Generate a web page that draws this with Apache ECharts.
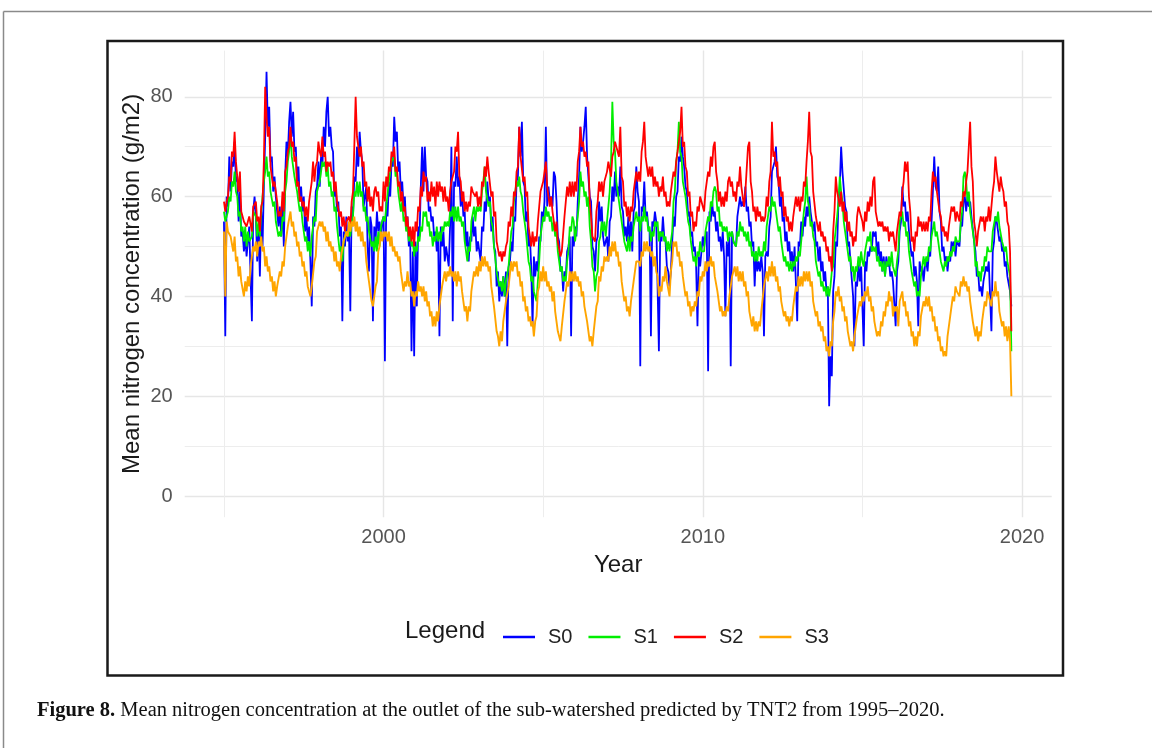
<!DOCTYPE html>
<html><head><meta charset="utf-8">
<script src="https://cdn.jsdelivr.net/npm/echarts@6/dist/echarts.min.js"></script>
<style>html,body{margin:0;padding:0;background:#fff}#c{width:1152px;height:748px}</style>
</head><body><div id="c"></div>
<script>
// ---- data (semi-monthly readings, 1995.0 .. 2019.67) ----
const startYear = 1995;
const stepsPerYear = 24;
const seriesNames = ['S0', 'S1', 'S2', 'S3'];
const yTickLabels = [0, 20, 40, 60, 80];
const yMinorTicks = [10, 30, 50, 70];
const xTickLabels = [2000, 2010, 2020];
const xMinorTicks = [1995, 2005, 2015];
const xAxisTitle = 'Year';
const yAxisTitle = 'Mean nitrogen concentration (g/m2)';
const legendTitle = 'Legend';
const captionBold = 'Figure 8.';
const captionText = ' Mean nitrogen concentration at the outlet of the sub-watershed predicted by TNT2 from 1995\u20132020.';

const s0 = [
55,32,60,58,68,61,67,66,71,63,64,55,61,52,53,49,52,48,51,54,44,35,57,60,
56,47,54,44,57,50,62,72,85,74,78,67,68,61,64,60,60,54,58,52,59,50,64,71,
68,75,79,72,77,69,70,63,66,59,62,57,60,53,56,51,54,47,38,56,54,61,62,67,
62,68,66,74,70,77,80,72,74,70,69,60,62,57,59,52,54,35,53,50,56,51,53,37,
58,56,64,63,70,66,73,69,67,58,60,62,50,45,56,54,35,54,51,57,53,55,52,55,
56,27,59,56,63,60,67,66,76,71,73,65,67,61,63,58,60,54,56,50,52,29,49,28,
51,38,54,52,62,70,61,70,64,63,57,58,55,56,52,53,49,52,32,54,50,53,47,50,
50,46,54,70,35,63,62,68,62,64,58,61,56,57,50,53,47,52,51,56,52,54,49,51,
49,47,54,53,59,57,63,59,60,53,56,50,49,42,45,39,43,40,44,40,45,30,46,47,
51,49,56,55,63,64,74,68,75,63,62,55,57,50,52,46,34,48,44,47,45,52,51,57,
55,59,74,58,62,59,60,58,65,64,59,52,51,45,46,41,45,44,49,50,52,32,52,50,
54,52,59,64,74,69,71,74,78,68,68,60,59,50,49,45,51,52,59,55,58,52,50,51,
52,47,55,56,62,59,65,60,62,60,66,58,57,52,54,51,56,51,55,49,57,58,66,61,
59,26,58,57,63,56,57,54,53,32,55,54,57,55,55,29,53,51,56,52,51,46,45,42,
45,51,56,54,60,61,68,67,72,68,66,62,61,56,57,52,53,49,50,46,34,48,46,46,
52,50,52,53,25,57,55,59,56,57,53,55,51,52,49,53,48,36,51,48,52,26,53,51,
51,50,56,56,60,58,59,58,62,57,58,54,55,50,51,42,49,45,47,45,48,45,32,48,
49,48,54,56,65,66,67,70,64,63,58,60,55,56,51,53,49,51,47,49,45,50,50,35,
51,50,55,52,56,54,58,56,60,57,57,53,55,50,51,47,50,45,47,43,45,41,42,18,
28,24,41,44,51,50,59,62,70,65,65,58,57,50,51,47,47,40,30,43,42,47,43,46,
46,30,47,45,49,48,50,49,53,52,53,48,51,47,49,45,48,44,48,46,47,44,45,43,
43,34,45,47,53,55,62,58,59,55,57,53,53,48,49,44,46,43,34,47,45,46,43,46,
47,45,49,48,55,61,68,62,61,66,57,55,49,50,47,48,45,48,47,51,50,51,48,51,
51,50,55,54,59,60,57,60,58,59,56,56,51,49,44,45,41,42,40,43,43,46,45,47,
47,33,49,51,56,55,55,51,52,49,50,46,47,44,44,41,38
];
const s1 = [
57,55,56,57,60,59,63,62,65,61,60,56,57,53,54,51,54,50,53,51,51,52,57,57,
56,52,55,52,57,57,63,65,68,64,65,61,61,58,59,55,55,52,53,52,56,55,61,63,
67,69,73,68,68,64,64,61,61,57,58,55,55,51,52,49,51,48,52,52,56,55,61,62,
63,63,67,66,67,64,66,62,63,60,61,57,58,54,54,49,50,47,51,51,53,52,53,52,
55,56,61,60,63,60,63,60,61,57,58,55,56,53,53,50,51,49,52,49,53,50,54,54,
56,55,58,58,63,63,67,67,68,64,65,61,61,57,59,55,56,53,54,51,53,50,51,48,
50,49,52,51,54,53,57,56,57,54,55,52,53,50,52,51,54,51,53,51,54,53,55,54,
55,54,57,56,58,55,58,55,58,55,56,54,55,51,51,47,50,49,55,55,58,55,58,57,
58,57,61,63,66,61,61,58,59,55,54,50,50,45,45,42,43,41,44,40,43,43,46,46,
53,54,59,59,63,62,64,61,60,57,57,53,53,47,46,43,44,41,41,39,43,47,52,52,
56,55,58,56,57,55,56,53,55,52,53,49,49,45,46,43,44,43,47,49,54,53,56,55,
51,51,56,59,65,62,63,60,61,58,60,54,51,46,45,41,44,45,51,52,55,53,55,52,
55,55,61,67,79,71,69,63,63,59,59,55,55,51,51,49,52,49,52,51,54,54,57,55,
56,53,56,55,58,55,56,53,54,51,53,52,55,54,55,51,53,52,53,51,52,49,51,49,
51,53,59,61,67,69,75,69,68,63,63,60,60,55,54,51,51,47,48,46,49,48,51,49,
49,49,53,53,56,55,59,58,61,62,61,57,58,54,55,53,54,53,54,51,53,52,53,51,
51,50,53,52,55,53,54,52,53,51,53,50,51,48,49,47,49,47,50,48,49,48,51,49,
54,56,58,57,60,58,59,57,57,53,54,51,51,47,48,46,47,45,47,45,47,46,48,47,
49,48,51,51,57,59,64,59,58,54,55,52,51,47,47,44,45,42,43,41,42,40,42,40,
42,45,46,51,51,56,59,64,61,59,55,55,51,51,47,48,45,46,43,46,45,48,46,49,
47,46,49,49,52,51,53,49,50,49,50,47,48,46,47,45,47,44,47,46,48,46,49,46,
45,44,47,49,55,56,57,54,55,52,53,49,49,45,45,42,43,40,41,40,44,44,48,46,
48,47,50,49,52,52,55,52,53,51,51,47,47,45,47,46,48,47,49,48,50,49,52,51,
51,51,55,57,64,65,63,59,61,57,57,53,51,46,47,44,45,43,46,45,48,47,50,49,
49,49,53,53,56,55,57,54,54,51,51,49,50,47,47,44,29
];
const s2 = [
59,57,59,60,64,63,69,68,73,67,67,61,65,57,56,55,55,54,54,56,56,53,58,58,
59,55,56,53,58,59,67,82,76,72,74,66,66,62,63,61,59,56,57,56,61,57,65,66,
69,70,74,70,71,67,68,62,63,59,60,58,59,56,58,55,59,59,63,67,63,66,67,71,
69,68,72,68,69,65,67,66,67,64,65,61,63,59,59,56,57,54,56,53,55,55,56,54,
59,61,70,80,72,72,68,70,66,67,62,63,59,62,58,60,57,61,62,60,61,57,58,57,
63,59,64,62,66,65,69,68,70,65,66,62,63,59,61,57,58,54,56,52,54,51,54,50,
55,53,58,57,62,60,65,63,64,59,61,59,63,60,62,58,63,60,63,61,62,59,62,59,
60,57,61,63,64,65,70,69,73,64,63,59,61,57,59,57,59,58,62,61,61,60,61,58,
60,58,63,62,66,64,68,65,65,60,61,56,57,51,51,48,49,47,49,48,50,51,55,54,
58,56,61,60,65,66,74,68,68,63,64,60,61,54,54,50,53,50,52,51,55,58,61,61,
63,63,67,62,62,58,60,57,57,53,55,51,51,48,49,49,56,59,62,60,63,60,63,60,
63,61,67,69,74,70,71,68,69,66,67,59,56,52,52,51,57,59,63,61,63,60,63,64,
65,67,67,64,68,69,71,70,69,68,74,64,63,58,59,56,58,55,58,57,61,61,65,63,
65,63,69,71,75,68,68,64,66,64,66,62,64,62,63,60,62,61,64,60,61,58,59,58,
61,61,65,64,67,67,71,73,78,70,71,66,65,60,61,56,57,53,55,54,58,57,60,59,
58,57,61,61,65,64,68,66,70,71,65,63,59,61,58,60,58,61,59,63,64,62,63,60,
61,59,63,62,66,62,62,58,61,61,70,71,63,61,57,58,55,58,56,57,55,56,55,56,
60,58,63,65,75,68,69,66,67,62,64,60,61,56,58,55,56,53,55,53,56,56,60,58,
60,57,60,59,63,62,67,71,77,69,68,61,61,56,56,53,55,52,53,51,52,49,50,47,
48,45,53,57,64,61,61,58,61,57,59,55,57,53,55,52,53,50,52,51,56,58,57,56,
55,53,57,55,59,57,60,58,63,64,57,57,54,55,54,55,53,54,53,54,51,53,52,53,
51,49,53,53,57,56,61,63,67,65,67,60,57,51,52,49,53,52,56,54,55,53,55,53,
55,53,56,55,61,65,63,64,61,61,57,56,53,54,52,53,51,54,54,58,57,58,55,57,
57,55,59,58,61,60,63,65,70,75,66,63,55,53,50,53,53,56,55,56,53,56,55,58,
55,55,61,63,68,65,63,61,64,62,61,58,59,55,54,49,33
];
const s3 = [
53,40,55,53,53,52,52,49,52,47,48,44,46,43,43,40,43,41,44,42,46,46,50,49,
51,48,51,50,52,49,50,46,48,45,46,43,44,41,43,40,42,42,45,44,47,46,50,50,
54,54,57,54,55,52,53,50,51,48,49,46,47,44,45,42,42,40,42,42,47,48,53,53,
55,54,55,53,54,51,53,50,51,49,50,47,49,46,47,45,48,48,51,51,53,52,55,53,
55,54,56,53,55,52,54,51,53,50,51,47,47,43,43,39,38,38,42,43,49,50,53,51,
53,52,53,51,53,50,52,49,50,48,49,47,48,45,45,41,43,42,45,42,43,40,41,38,
41,40,43,41,42,40,42,39,41,38,39,36,37,34,36,34,37,35,38,38,42,42,45,43,
45,44,46,44,45,43,45,42,45,43,44,41,41,37,38,35,38,37,41,41,45,44,46,44,
47,45,48,46,48,46,47,45,46,42,42,38,38,33,32,30,33,31,35,35,39,39,42,42,
47,45,47,46,47,44,45,42,43,39,40,37,38,35,36,34,35,32,35,36,41,42,45,43,
46,43,45,42,43,41,42,39,41,37,37,33,33,31,34,34,39,39,43,42,45,43,45,43,
45,43,44,42,43,40,41,38,38,35,35,31,32,30,33,33,38,39,44,43,46,45,48,47,
48,47,50,48,51,49,51,48,49,46,47,43,43,39,40,37,38,36,39,39,43,43,47,47,
47,46,49,48,51,49,51,49,50,48,49,46,48,45,44,40,42,41,44,43,46,43,43,40,
45,47,51,50,51,48,49,46,47,44,44,40,41,38,39,36,38,37,39,38,41,40,44,43,
45,44,47,45,47,46,48,46,47,44,44,41,41,37,38,36,37,36,38,37,40,40,44,44,
46,44,46,43,45,43,45,42,43,40,41,37,37,34,36,33,35,33,35,34,37,37,42,42,
45,43,46,44,47,44,46,43,44,41,42,39,39,36,37,35,36,34,36,35,38,38,42,41,
44,42,44,42,45,43,45,43,45,42,43,39,39,36,37,34,35,33,34,31,32,29,30,28,
31,30,35,37,41,40,42,39,40,37,38,35,36,33,33,30,31,29,32,32,36,36,39,38,
40,39,41,40,42,39,40,37,38,35,35,32,33,32,35,34,37,36,39,38,41,39,40,36,
38,37,38,34,39,39,41,38,39,36,37,34,35,32,33,30,32,30,33,32,36,36,39,38,
40,38,40,37,38,35,36,33,34,31,32,29,30,28,29,28,32,32,36,36,40,39,42,41,
41,40,43,42,44,42,43,41,42,39,39,35,35,32,34,31,33,32,35,35,39,38,41,40,
39,38,41,40,43,40,41,37,37,34,35,32,34,31,34,31,20
];
const seriesValues = [s0, s1, s2, s3];
const seriesColors = ['#0000ff', '#00ee00', '#ff0000', '#ffa500'];
const seriesWidths = [1.8, 1.8, 1.8, 1.9];

function toPoints(arr) { return arr.map((v, i) => [startYear + i / stepsPerYear, v]); }

const X_MIN = 1993.77, X_MAX = 2020.93, Y_MIN = -4.25, Y_MAX = 89.25;
const SANS = 'Liberation Sans';

const chart = echarts.init(document.getElementById('c'), null, { renderer: 'canvas' });
const option = {
  backgroundColor: '#ffffff',
  animation: false,
  grid: { left: 184.7, top: 50.6, width: 867, height: 466.6, containLabel: false },
  xAxis: [
    {
      type: 'value', min: X_MIN, max: X_MAX,
      axisLine: { show: false },
      axisTick: { show: false, customValues: xTickLabels },
      axisLabel: { customValues: xTickLabels, formatter: v => String(v), fontSize: 20, color: '#555555', margin: 10, fontFamily: SANS },
      splitLine: { show: true, lineStyle: { color: '#e6e6e6', width: 1.4 } },
      name: xAxisTitle, nameLocation: 'middle', nameGap: 36,
      nameTextStyle: { fontSize: 24, color: '#1a1a1a', fontFamily: SANS }
    },
    {
      type: 'value', min: X_MIN, max: X_MAX, position: 'bottom',
      axisLine: { show: false },
      axisTick: { show: false, customValues: xMinorTicks },
      axisLabel: { show: false },
      splitLine: { show: true, lineStyle: { color: '#ededed', width: 1 } }
    }
  ],
  yAxis: [
    {
      type: 'value', min: Y_MIN, max: Y_MAX,
      axisLine: { show: false },
      axisTick: { show: false, customValues: yTickLabels },
      axisLabel: { customValues: yTickLabels, fontSize: 20, color: '#555555', margin: 12, fontFamily: SANS },
      splitLine: { show: true, lineStyle: { color: '#e6e6e6', width: 1.4 } },
      name: yAxisTitle, nameLocation: 'middle', nameGap: 40, nameRotate: 90, nameMoveOverlap: false,
      nameTextStyle: { fontSize: 24, color: '#1a1a1a', fontFamily: SANS }
    },
    {
      type: 'value', min: Y_MIN, max: Y_MAX, position: 'left',
      axisLine: { show: false },
      axisTick: { show: false, customValues: yMinorTicks },
      axisLabel: { show: false },
      splitLine: { show: true, lineStyle: { color: '#ededed', width: 1 } }
    }
  ],
  legend: {
    data: seriesNames, left: 498, top: 622, icon: 'rect', itemWidth: 32, itemHeight: 2.5, itemGap: 16,
    textStyle: { fontSize: 20, color: '#222222', fontFamily: SANS, padding: [0, 0, 0, 8] }
  },
  series: seriesNames.map((n, k) => ({
    name: n, type: 'line', xAxisIndex: 0, yAxisIndex: 0,
    data: toPoints(seriesValues[k]), symbol: 'none', sampling: null,
    lineStyle: { color: seriesColors[k], width: seriesWidths[k] }, itemStyle: { color: seriesColors[k] },
    z: 3 + k
  })),
  graphic: [
    { type: 'line', shape: { x1: 3.5, y1: 11.5, x2: 1152, y2: 11.5 }, style: { stroke: '#8a8a8a', lineWidth: 1.5 } },
    { type: 'line', shape: { x1: 3.5, y1: 11.5, x2: 3.5, y2: 748 }, style: { stroke: '#8a8a8a', lineWidth: 1.5 } },
    { type: 'rect', shape: { x: 107.5, y: 41, width: 955.5, height: 634.5 }, style: { fill: null, stroke: '#1a1a1a', lineWidth: 2.5 } },
    { type: 'text', left: 405, top: 619, style: { text: legendTitle, fontSize: 24, fontFamily: SANS, fill: '#1a1a1a' } },
    { type: 'text', left: 37, top: 700, style: {
        text: '{b|' + captionBold + '}{n|' + captionText + '}',
        rich: { b: { fontWeight: 'bold', fontSize: 20.5, fontFamily: 'Liberation Serif', fill: '#111' },
                n: { fontSize: 20.5, fontFamily: 'Liberation Serif', fill: '#111' } },
        fontSize: 20.5, fontFamily: 'Liberation Serif', fill: '#111' } }
  ]
};
chart.setOption(option);
</script>
</body></html>
